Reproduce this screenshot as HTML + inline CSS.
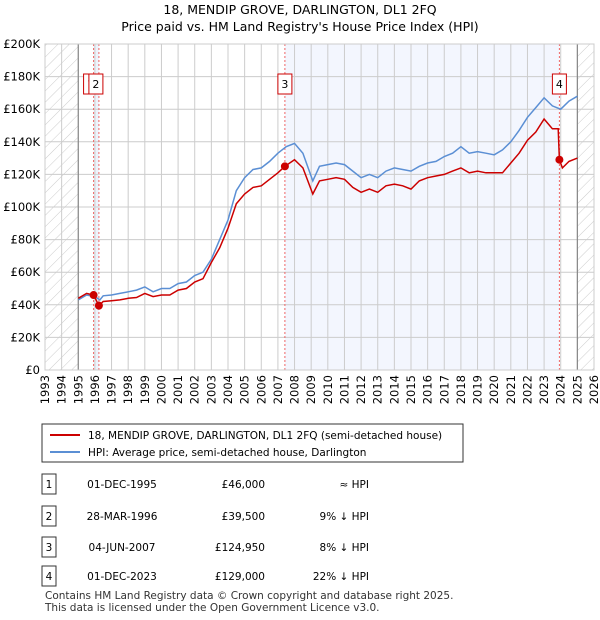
<!DOCTYPE html>
<html><head><meta charset="utf-8"><style>
body{margin:0;background:#fff;font-family:"Liberation Sans","DejaVu Sans",sans-serif;}
#wrap{position:relative;width:600px;height:620px;overflow:hidden;}
</style></head><body><div id="wrap">
<svg id="svg" width="600" height="620" xmlns="http://www.w3.org/2000/svg" font-family="DejaVu Sans, Liberation Sans, sans-serif">
<defs><pattern id="hatch" width="8" height="8" patternUnits="userSpaceOnUse" patternTransform="rotate(45)"><line x1="0" y1="0" x2="0" y2="8" stroke="#ccc" stroke-width="1"/></pattern></defs>
<text x="300" y="14" text-anchor="middle" font-size="12.5">18, MENDIP GROVE, DARLINGTON, DL1 2FQ</text>
<text x="300" y="31" text-anchor="middle" font-size="12.5">Price paid vs. HM Land Registry's House Price Index (HPI)</text>
<g id="plot"></g>
<g>
<rect x="42" y="424" width="421" height="38" fill="#fff" stroke="#333" stroke-width="1"/>
<line x1="50" y1="435" x2="80" y2="435" stroke="#cc0000" stroke-width="2"/>
<text x="88" y="439" font-size="10.5">18, MENDIP GROVE, DARLINGTON, DL1 2FQ (semi-detached house)</text>
<line x1="50" y1="452" x2="80" y2="452" stroke="#5b8fd4" stroke-width="2"/>
<text x="88" y="456" font-size="10.5">HPI: Average price, semi-detached house, Darlington</text>
</g>
<g id="table" font-size="10.5"></g>
<text x="45" y="599" font-size="10.5" fill="#333">Contains HM Land Registry data © Crown copyright and database right 2025.</text>
<text x="45" y="611" font-size="10.5" fill="#333">This data is licensed under the Open Government Licence v3.0.</text>
</svg></div>
<script>
const hpiYears=[1995,1995.5,1996,1996.3,1996.5,1997,1997.5,1998,1998.5,1999,1999.5,2000,2000.5,2001,2001.5,2002,2002.5,2003,2003.5,2004,2004.5,2005,2005.5,2006,2006.5,2007,2007.5,2008,2008.5,2009.1,2009.5,2010,2010.5,2011,2011.5,2012,2012.5,2013,2013.5,2014,2014.5,2015,2015.5,2016,2016.5,2017,2017.5,2018,2018.5,2019,2019.5,2020,2020.5,2021,2021.5,2022,2022.5,2023,2023.5,2024,2024.5,2025];
const hpiValues=[43,46,45,43,45.5,46,47,48,49,51,48,50,50,53,54,58,60,68,80,92,110,118,123,124,128,133,137,139,133,116,125,126,127,126,122,118,120,118,122,124,123,122,125,127,128,131,133,137,133,134,133,132,135,140,147,155,161,167,162,160,165,168];
const priceYears=[1995,1995.5,1995.92,1996.24,1996.5,1997,1997.5,1998,1998.5,1999,1999.5,2000,2000.5,2001,2001.5,2002,2002.5,2003,2003.5,2004,2004.5,2005,2005.5,2006,2006.5,2007,2007.42,2008,2008.5,2009.1,2009.5,2010,2010.5,2011,2011.5,2012,2012.5,2013,2013.5,2014,2014.5,2015,2015.5,2016,2016.5,2017,2017.5,2018,2018.5,2019,2019.5,2020,2020.5,2021,2021.5,2022,2022.5,2023,2023.5,2023.85,2023.92,2024.1,2024.5,2025];
const priceValues=[44,47,46,39.5,42,42.5,43,44,44.5,47,45,46,46,49,50,54,56,66,75,87,102,108,112,113,117,121,125,129,124,108,116,117,118,117,112,109,111,109,113,114,113,111,116,118,119,120,122,124,121,122,121,121,121,127,133,141,146,154,148,148,129,124,128,130];
const saleYears=[1995.92,1996.24,2007.42,2023.92];
const saleValues=[46,39.5,124.95,129];
const saleLabels=["1","2","3","4"];
const yTicks=[0,20,40,60,80,100,120,140,160,180,200];
const yTickLabels=["£0","£20K","£40K","£60K","£80K","£100K","£120K","£140K","£160K","£180K","£200K"];
const tableDates=["01-DEC-1995","28-MAR-1996","04-JUN-2007","01-DEC-2023"];
const tablePrices=["£46,000","£39,500","£124,950","£129,000"];
const tableRel=["≈ HPI","9% ↓ HPI","8% ↓ HPI","22% ↓ HPI"];

const L=45,R=594,T=44,B=370,X0=1993,X1=2026,YMAX=200;
const sx=v=>L+(v-X0)/(X1-X0)*(R-L);
const sy=v=>B-v/YMAX*(B-T);
const NS="http://www.w3.org/2000/svg";
const plot=document.getElementById('plot');
function mk(tag,attrs,parent){const e=document.createElementNS(NS,tag);for(const k in attrs)e.setAttribute(k,attrs[k]);(parent||plot).appendChild(e);return e;}

let e;
e=mk('rect',{x:L,y:T,width:R-L,height:B-T,fill:'#fff'});

e=mk('rect',{x:sx(saleYears[0]),y:T,width:sx(saleYears[1])-sx(saleYears[0]),height:B-T,fill:'#eef3fc'});

e=mk('rect',{x:sx(saleYears[2]),y:T,width:sx(saleYears[3])-sx(saleYears[2]),height:B-T,fill:'#f3f6fe'});

e=mk('rect',{x:L,y:T,width:sx(1995)-L,height:B-T,fill:'url(#hatch)'});

e=mk('rect',{x:sx(2025),y:T,width:R-sx(2025),height:B-T,fill:'url(#hatch)'});

for(let y=X0;y<=X1;y++){
 e=mk('line',{x1:sx(y),x2:sx(y),y1:T,y2:B,stroke:'#ccc','stroke-width':1});
 
 const tx=sx(y)+4, ty=B+5;
 e=mk('text',{x:tx,y:ty,'font-size':11.5,'text-anchor':'end',transform:`rotate(-90 ${tx} ${ty})`});
 e.textContent=y;
 
}
yTicks.forEach((v,i)=>{
 e=mk('line',{x1:L,x2:R,y1:sy(v),y2:sy(v),stroke:'#ccc','stroke-width':1});
 
 e=mk('text',{x:L-5,y:sy(v)+4,'font-size':11.5,'text-anchor':'end'});
 e.textContent=yTickLabels[i];
 
});
e=mk('line',{x1:sx(1995),x2:sx(1995),y1:T,y2:B,stroke:'#888','stroke-width':1.2});

e=mk('line',{x1:sx(2025),x2:sx(2025),y1:T,y2:B,stroke:'#888','stroke-width':1.2});

saleYears.forEach((y,i)=>{
 e=mk('line',{x1:sx(y),x2:sx(y),y1:T,y2:B,stroke:'#e66','stroke-width':1,'stroke-dasharray':'2,2'});
 
});
e=mk('rect',{x:L,y:T,width:R-L,height:B-T,fill:'none',stroke:'#ccc'});

const pts=(xs,ys)=>xs.map((x,i)=>sx(x).toFixed(1)+','+sy(ys[i]).toFixed(1)).join(' ');
e=mk('polyline',{points:pts(hpiYears,hpiValues),fill:'none',stroke:'#5b8fd4','stroke-width':1.5});

e=mk('polyline',{points:pts(priceYears,priceValues),fill:'none',stroke:'#cc0000','stroke-width':1.5});

saleYears.forEach((y,i)=>{
 e=mk('circle',{cx:sx(y),cy:sy(saleValues[i]),r:4,fill:'#cc0000'});
 
 const bx=[sx(y)-10,sx(y)-10,sx(y)-7,sx(y)-7][i];
 e=mk('rect',{x:bx,y:74,width:14,height:20,fill:'#fff',stroke:'#cc0000'});
 
 e=mk('text',{x:bx+7,y:88,'font-size':11,'text-anchor':'middle'});
 e.textContent=saleLabels[i];
 
});
const tbl=document.getElementById('table');
const rowY=[484,516,547,576];
rowY.forEach((y,i)=>{
 e=mk('rect',{x:42,y:y-10,width:14,height:20,fill:'#fff',stroke:'#333'},tbl);
 
 e=mk('text',{x:49,y:y+4,'text-anchor':'middle'},tbl);e.textContent=saleLabels[i];
 
 e=mk('text',{x:122,y:y+4,'text-anchor':'middle'},tbl);e.textContent=tableDates[i];
 
 e=mk('text',{x:265,y:y+4,'text-anchor':'end'},tbl);e.textContent=tablePrices[i];
 
 e=mk('text',{x:369,y:y+4,'text-anchor':'end'},tbl);e.textContent=tableRel[i];
 
});
</script></body></html>
